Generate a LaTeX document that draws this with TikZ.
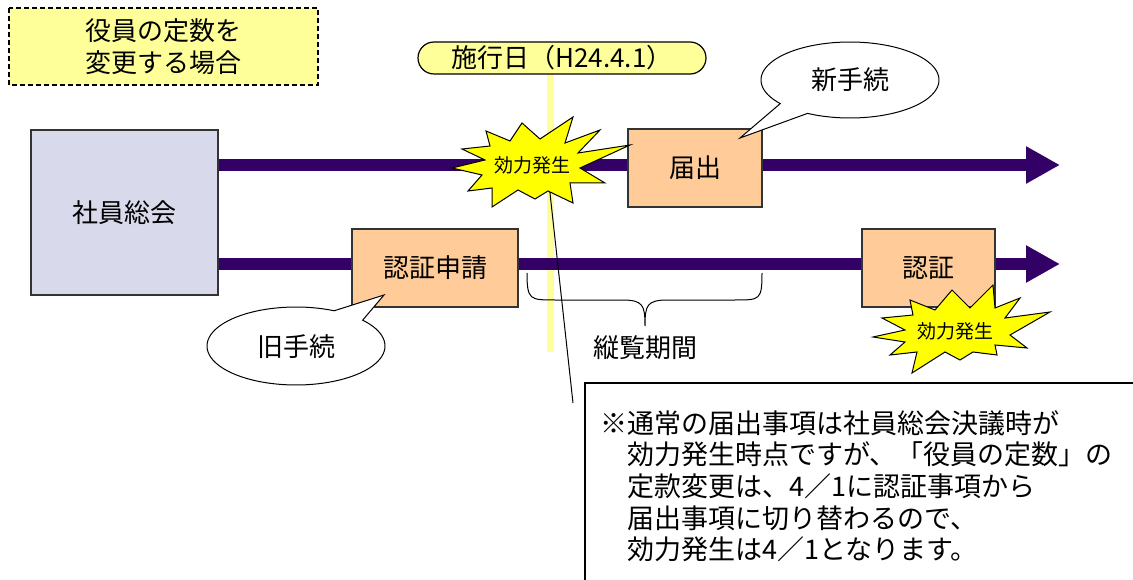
\documentclass[tikz,border=0pt]{standalone}
\usepackage{fontspec}
\setmainfont{Noto Sans CJK JP}
\usetikzlibrary{arrows.meta}
\definecolor{ltyellow}{RGB}{255,255,153}
\definecolor{peach}{RGB}{255,204,153}
\definecolor{lavender}{RGB}{217,217,236}
\definecolor{darkpurple}{RGB}{51,0,102}
\definecolor{burstyellow}{RGB}{255,255,0}
\begin{document}
\begin{tikzpicture}[x=1pt,y=-1pt,
  box/.style={draw=black!80, line width=1.2pt, fill=peach, minimum height=78pt, inner sep=0pt, font=\fontsize{26}{30}\selectfont},
  timeline/.style={draw=darkpurple, line width=12pt, -{Triangle[length=34pt,width=35pt]}},
  burst/.style={draw=black, line width=1pt, fill=burstyellow},
  bursttext/.style={font=\fontsize{19}{22}\selectfont, inner sep=0pt},
  callout/.style={draw=black, line width=1pt, fill=white},
  bigtext/.style={font=\fontsize{26}{30}\selectfont, inner sep=0pt},
  notetext/.style={anchor=base west, inner sep=0pt, font=\fontsize{27}{32}\selectfont}
]
\useasboundingbox (0,0) rectangle (1133,580);
\clip (0,0) rectangle (1133,580);

% title box
\draw[dashed, line width=1.2pt, fill=ltyellow, dash pattern=on 5pt off 3pt] (9,8) rectangle (318,85);
\node[bigtext, align=center, font=\fontsize{26}{32}\selectfont] (title) at (163,47) {役員の定数を\\変更する場合};

% effective date line and pill
\coordinate (vtop) at (550,74);
\coordinate (vbot) at (550,352);
\draw[ltyellow, line width=7pt] (vtop) -- (vbot);
\node[draw=black, line width=1.2pt, fill=ltyellow, rounded corners=16pt, minimum width=288pt, minimum height=32pt, inner sep=0pt, font=\fontsize{26}{30}\selectfont] (date) at (562,58) {施行日（H24.4.1）};

% general meeting box
\node[draw=black!80, line width=1.2pt, fill=lavender, minimum width=187pt, minimum height=165pt, inner sep=0pt, font=\fontsize{26}{30}\selectfont] (shain) at (124.5,212.5) {社員総会};

% timelines
\coordinate (end1) at (1060,165);
\coordinate (end2) at (1060,264);
\draw[timeline] (shain.east |- end1) -- (end1);
\draw[timeline] (shain.east |- end2) -- (end2);

% leader line
\coordinate (lead1) at (548,175);
\coordinate (lead2) at (573,403);
\draw[line width=1pt] (lead1) -- (lead2);

% boxes
\node[box, minimum width=134pt] (todoke) at (695,168) {届出};
\node[box, minimum width=166pt] (shinsei) at (435,268) {認証申請};
\node[box, minimum width=133pt] (ninsho) at (928.5,268) {認証};

% burst 1
\draw[burst, shift={(530,163)}] (-78,5) -- (-45,-3) -- (-68,-14) -- (-40,-17) -- (-44,-32) -- (-20,-22) -- (-8,-40) -- (10,-24) -- (43,-46) -- (35,-20) -- (70,-33) -- (48,-10) -- (100,-18) -- (50,5) -- (75,20) -- (40,20) -- (43,40) -- (18,28) -- (5,36) -- (-12,27) -- (-38,44) -- (-38,25) -- (-62,28) -- (-48,12) -- cycle;
\node[bursttext] (eff1) at (532,165) {効力発生};

% burst 2
\draw[burst, shift={(955,330)}] (-82,7) -- (-50,0) -- (-73,-12) -- (-42,-15) -- (-45,-30) -- (-20,-20) -- (-3,-40) -- (15,-22) -- (38,-45) -- (40,-22) -- (65,-32) -- (50,-12) -- (95,-18) -- (55,5) -- (72,18) -- (40,15) -- (42,25) -- (18,22) -- (5,30) -- (-10,22) -- (-43,43) -- (-38,22) -- (-65,25) -- (-50,12) -- cycle;
\node[bursttext] (eff2) at (955,331) {効力発生};

% callouts
\draw[callout] plot[domain=141.6:478.5, samples=90] ({850+89*cos(\x)},{80+38*sin(\x)}) -- (740,138) -- cycle;
\node[bigtext] (newproc) at (850,80) {新手続};
\draw[callout] plot[domain=318.5:655.4, samples=90] ({296+89*cos(\x)},{346+39*sin(\x)}) -- (384,295) -- cycle;
\node[bigtext] (oldproc) at (296,347) {旧手続};

% brace
\draw[line width=1pt] (527,273) .. controls (527,300) and (530,300) .. (555,300) -- (622,300) .. controls (643,300) and (645,305) .. (645,326) .. controls (645,305) and (647,300) .. (668,300) -- (735,300) .. controls (760,300) and (762,300) .. (762,273);
\node[bigtext] (kanran) at (645,348) {縦覧期間};

% note box
\draw[line width=1.2pt, fill=white] (585,383) rectangle (1150,600);
\node[notetext] (n1) at (600,433) {※通常の届出事項は社員総会決議時が};
\node[notetext] (n2) at (627,464) {効力発生時点ですが、「役員の定数」の};
\node[notetext] (n3) at (627,496) {定款変更は、4／1に認証事項から};
\node[notetext] (n4) at (627,528) {届出事項に切り替わるので、};
\node[notetext] (n5) at (627,559) {効力発生は4／1となります。};
\end{tikzpicture}
\end{document}
